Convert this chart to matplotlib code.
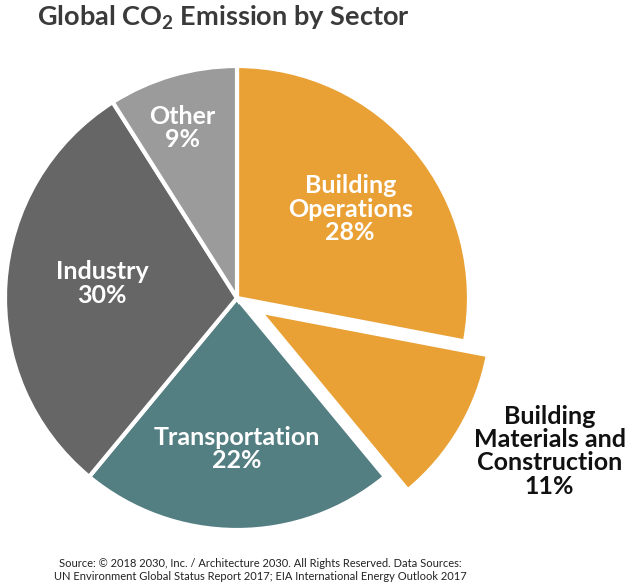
import matplotlib.pyplot as plt
import numpy as np

plt.rcParams['font.family'] = ['Lato', 'DejaVu Sans']
plt.rcParams['mathtext.fontset'] = 'custom'
plt.rcParams['mathtext.rm'] = 'Lato'
plt.rcParams['mathtext.bf'] = 'Lato:bold'

sectors = ['Building\nOperations', 'Building\nMaterials and\nConstruction', 'Transportation', 'Industry', 'Other']
shares = [28, 11, 22, 30, 9]
colors = ['#E9A035', '#E9A035', '#537E82', '#666666', '#9B9B9B']
explode = [0, 0.115, 0, 0, 0]
# label distance from centre and angle shift (deg) relative to wedge middle
label_dist = [0.62, 1.5, 0.65, 0.585, 0.77]
label_shift = [-1.5, 4.5, 0, -2.5, 1.5]

fig = plt.figure(figsize=(6.32, 5.87), dpi=100)
ax = fig.add_axes([5 / 632, 57 / 587, 464 / 632, 464 / 587])
wedges, _ = ax.pie(shares, colors=colors, explode=explode, startangle=90, counterclock=False,
                   radius=1, wedgeprops=dict(edgecolor='white', linewidth=3))
ax.set_xlim(-1, 1)
ax.set_ylim(-1, 1)
ax.axis('off')
for w in wedges:
    w.set_clip_on(False)

for i, (w, name, v) in enumerate(zip(wedges, sectors, shares)):
    ang = np.deg2rad((w.theta1 + w.theta2) / 2 + label_shift[i])
    d = label_dist[i]
    outside = d > 1
    ax.text(d * np.cos(ang), d * np.sin(ang),
            f'{name}\n{v}%', ha='center', va='center', fontsize=18, fontweight='bold',
            color='#111111' if outside else 'white', linespacing=1.02, clip_on=False)

fig.text(37 / 632, 1 - 18 / 587, r'Global CO$_\mathbf{2}$ Emission by Sector', fontsize=19.5,
         fontweight='bold', color='#3a3a3a', va='center', ha='left')
fig.text(260 / 632, 1 - 570 / 587,
         'Source: © 2018 2030, Inc. / Architecture 2030. All Rights Reserved. Data Sources:\n'
         'UN Environment Global Status Report 2017; EIA International Energy Outlook 2017',
         fontsize=8, ha='center', va='center', color='#222222', linespacing=1.15)

fig.savefig('out.png', dpi=100)
